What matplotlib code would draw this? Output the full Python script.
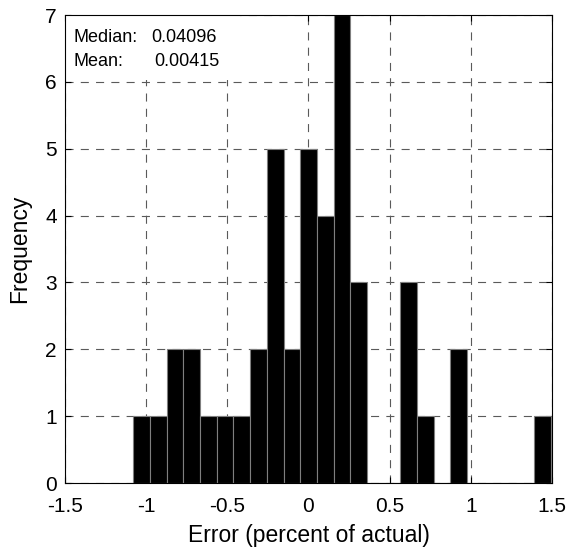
import matplotlib
matplotlib.use("Agg")
import matplotlib.pyplot as plt
from matplotlib.patches import Rectangle
import numpy as np

plt.rcParams['font.family'] = ['Liberation Sans', 'DejaVu Sans']
plt.rcParams['lines.scale_dashes'] = False

# histogram of forecast errors, 25 equal bins
bin_lo = -1.079
bin_hi = 1.491
counts = [1, 1, 2, 2, 1, 1, 1, 2, 5, 2, 5, 4, 7, 3, 0, 0, 3, 1, 0, 2, 0, 0, 0, 0, 1]
median_err = 0.04096
mean_err = 0.00415

xticks = [-1.5, -1, -0.5, 0, 0.5, 1, 1.5]
xticklabels = ['-1.5', '-1', '-0.5', '0', '0.5', '1', '1.5']
yticks = [0, 1, 2, 3, 4, 5, 6, 7]

edges = np.linspace(bin_lo, bin_hi, len(counts) + 1)

fig = plt.figure(figsize=(5.71, 5.50), dpi=100)
ax = fig.add_axes([0.1138, 0.1218, 0.8529, 0.8509])

ax.bar(edges[:-1], counts, width=np.diff(edges), align='edge',
       color='black', edgecolor='#7f7f7f', linewidth=0.8, zorder=2)

ax.set_xlim(-1.5, 1.5)
ax.set_ylim(0, 7)
ax.set_xticks(xticks)
ax.set_xticklabels(xticklabels)
ax.set_yticks(yticks)
ax.tick_params(direction='in', length=4, width=0.8, top=True, right=True,
               labelsize=15)
ax.tick_params(axis='x', pad=10)
ax.tick_params(axis='y', pad=6)

ax.grid(True, color='#5a5a5a', linewidth=0.8, dashes=(5.8, 5.2))
ax.set_axisbelow(True)
for s in ax.spines.values():
    s.set_linewidth(0.8)
    s.set_zorder(5)

# white panel behind the summary stats
ax.add_patch(Rectangle((0, 0.862), 0.36, 0.138, transform=ax.transAxes,
                       facecolor='white', edgecolor='none', zorder=3))
ax.text(0.0185, 0.9417, 'Median:', transform=ax.transAxes, fontsize=13,
        va='baseline', zorder=4)
ax.text(0.178, 0.9417, f'{median_err:.5f}', transform=ax.transAxes, fontsize=13,
        va='baseline', zorder=4)
ax.text(0.0185, 0.8917, 'Mean:', transform=ax.transAxes, fontsize=13,
        va='baseline', zorder=4)
ax.text(0.183, 0.8917, f'{mean_err:.5f}', transform=ax.transAxes, fontsize=13,
        va='baseline', zorder=4)

ax.set_xlabel('Error (percent of actual)', fontsize=16.5, labelpad=6)
ax.set_ylabel('Frequency', fontsize=16.5, labelpad=10)

fig.savefig('out.png', dpi=100)
